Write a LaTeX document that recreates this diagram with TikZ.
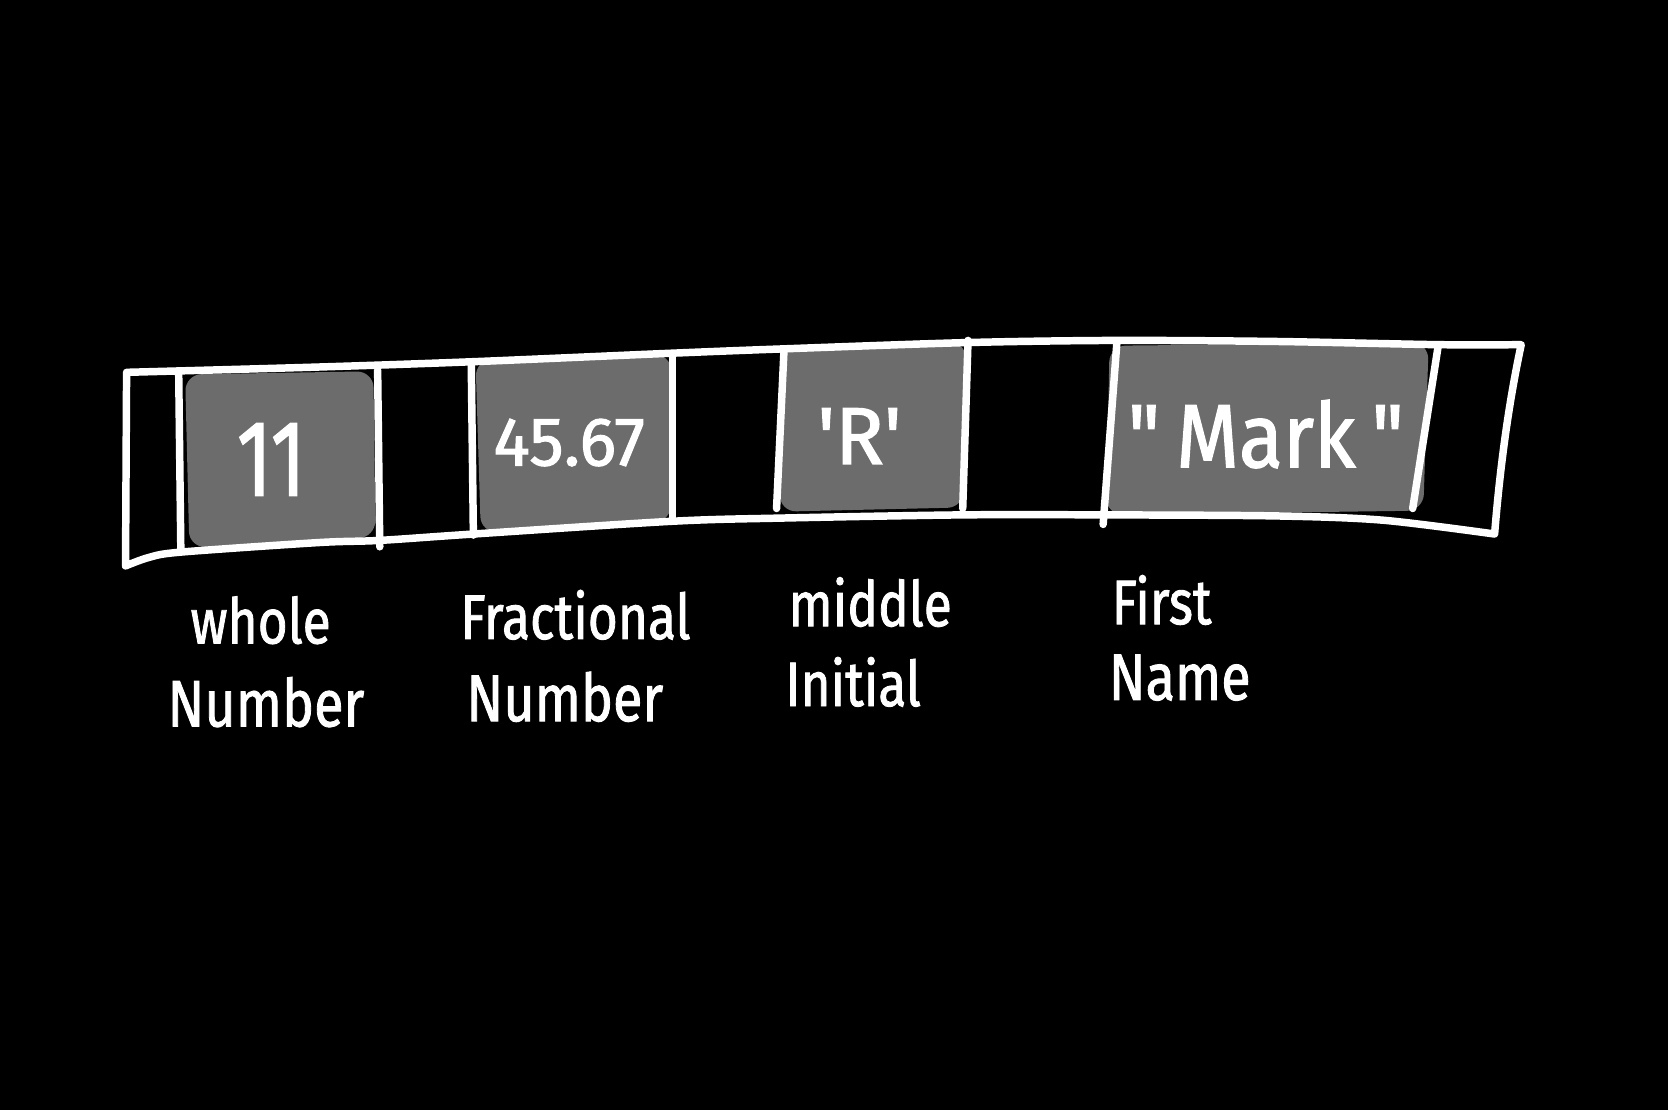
\documentclass[tikz,border=0pt]{standalone}
\usepackage{fontspec}
\setmainfont{Fira Sans}[FakeBold=1.5]
\usepackage{graphicx}
\definecolor{boxgray}{RGB}{108,108,108}
\tikzset{
  hand/.style={draw=white, line width=5pt, line cap=round, line join=round},
  cellfill/.style={fill=boxgray, rounded corners=11pt},
  valtext/.style={text=white, inner sep=0pt},
  labtext/.style={text=white, inner sep=0pt, align=center},
}
\newcommand{\nar}[1]{\scalebox{0.82}[1]{#1}}
\begin{document}
\begin{tikzpicture}[x=0.25mm, y=-0.25mm]
\fill[black] (0,0) rectangle (1568,1043);
\useasboundingbox (0,0) rectangle (1568,1043);

% gray cells
\path[cellfill] (174,352) -- (351,349) -- (353,505) -- (178,515) -- cycle;
\path[cellfill] (447,338) -- (631,333) -- (631,490) -- (452,501) -- cycle;
\path[cellfill] (735,327) -- (908,321) -- (906,477) -- (733,481) -- cycle;
\path[cellfill] (1043,325) -- (1343,322) -- (1338,480) -- (1040,484) -- cycle;

% strip outline
\draw[hand] (118,532) -- (119,350)
  plot[smooth] coordinates {(119,350) (300,345) (445,340) (632,332) (735,328) (910,322) (1050,320) (1200,321) (1352,324) (1430,324)}
  .. controls (1418,380) and (1410,440) .. (1405,502)
  plot[smooth] coordinates {(1405,502) (1300,489) (1200,485) (1040,484) (905,484) (735,487) (632,490) (445,502) (357,508) (300,510) (170,519) (140,524) (118,532)};

% dividers
\draw[hand] (168,352) -- (170,518);
\draw[hand] (355,348) -- (357,514);
\draw[hand] (443,342) -- (445,503);
\draw[hand] (632,333) -- (632,487);
\draw[hand] (737,329) -- (730,478);
\draw[hand] (910,320) -- (905,478);
\draw[hand] (1050,321) -- (1037,493);
\draw[hand] (1352,325) -- (1328,478);

% values
\node[valtext, font=\fontsize{72}{72}\selectfont] (v1) at (255,432) {\scalebox{0.75}[1]{11}};
\node[valtext, font=\fontsize{46}{46}\selectfont] (v2) at (535,416) {45.67};
\node[valtext, font=\fontsize{54}{54}\selectfont] (v3) at (808,410) {\textquotesingle R\textquotesingle};
\node[valtext, font=\fontsize{60}{60}\selectfont] (v4) at (1190,408) {\scalebox{0.9}[1]{\textquotedbl\hspace{0.2em}Mark\hspace{0.2em}\textquotedbl}};

% labels
\node[labtext, font=\fontsize{42}{42}\selectfont] (l1a) at (245,583) {\nar{whole}};
\node[labtext, font=\fontsize{44}{44}\selectfont] (l1b) at (250,660) {\nar{Number}};
\node[labtext, font=\fontsize{42}{42}\selectfont] (l2a) at (541,578) {\nar{Fractional}};
\node[labtext, font=\fontsize{44}{44}\selectfont] (l2b) at (531,655) {\nar{Number}};
\node[labtext, font=\fontsize{42}{42}\selectfont] (l3a) at (818,566) {\nar{middle}};
\node[labtext, font=\fontsize{42}{42}\selectfont] (l3b) at (802,641) {\nar{Initial}};
\node[labtext, font=\fontsize{42}{42}\selectfont] (l4a) at (1092,564) {\nar{First}};
\node[labtext, font=\fontsize{44}{44}\selectfont] (l4b) at (1109,637) {\nar{Name}};
\end{tikzpicture}
\end{document}
